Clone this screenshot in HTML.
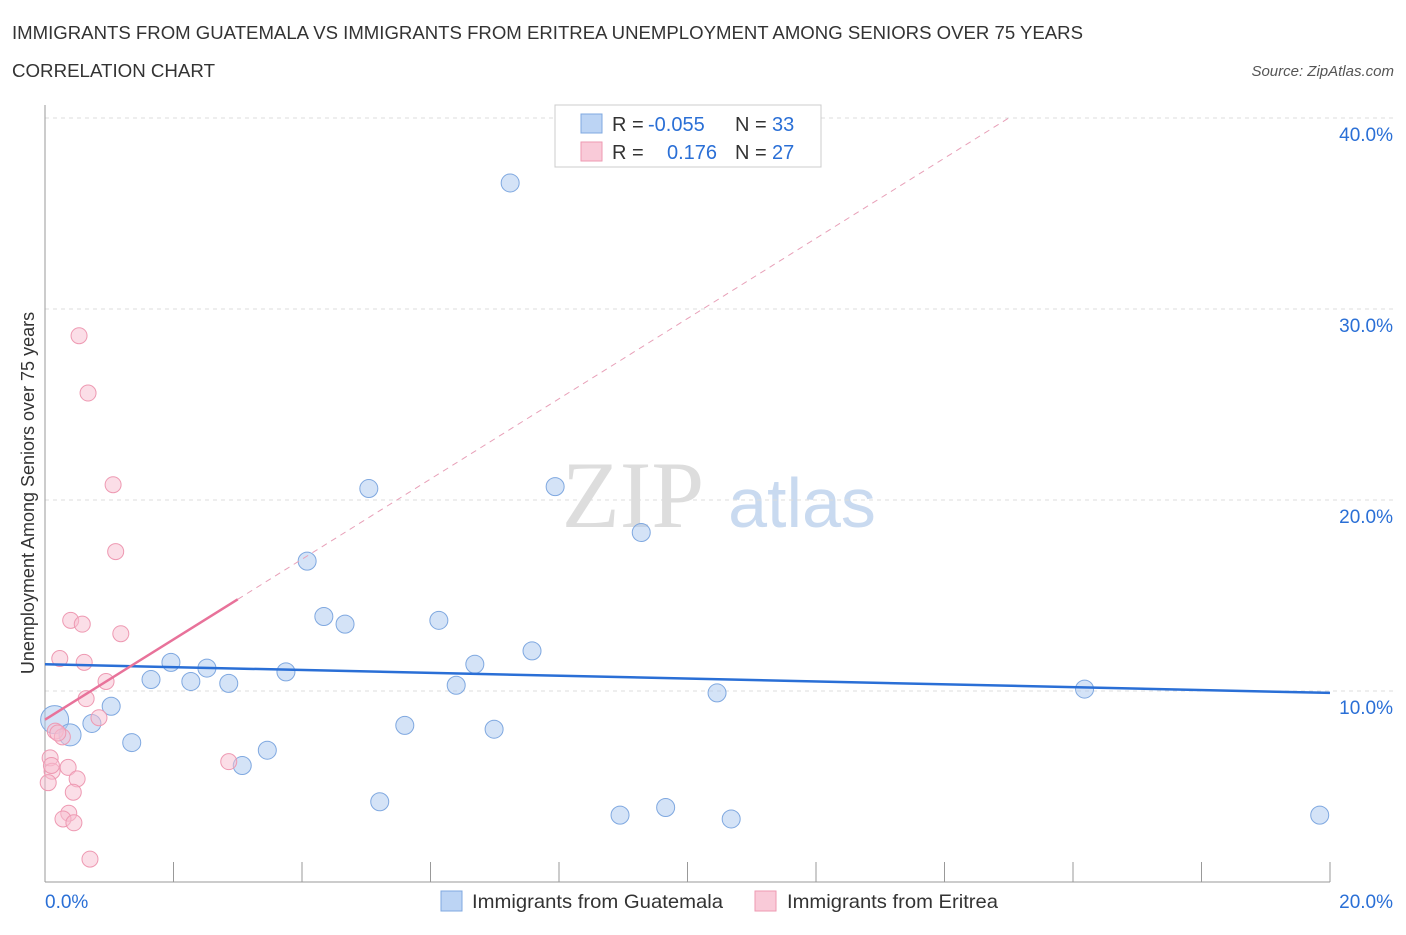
<!DOCTYPE html>
<html><head><meta charset="utf-8"><style>
body{margin:0;background:#fff;font-family:"Liberation Sans",sans-serif;}
svg text{font-family:"Liberation Sans",sans-serif;}
</style></head><body>
<svg id="c" width="1406" height="930" xmlns="http://www.w3.org/2000/svg">
<text x="12" y="39" font-size="18" fill="#333" textLength="1071" lengthAdjust="spacingAndGlyphs">IMMIGRANTS FROM GUATEMALA VS IMMIGRANTS FROM ERITREA UNEMPLOYMENT AMONG SENIORS OVER 75 YEARS</text>
<text x="12" y="77" font-size="18" fill="#333" textLength="203" lengthAdjust="spacingAndGlyphs">CORRELATION CHART</text>
<text x="1394" y="76" font-size="15" fill="#555" font-style="italic" text-anchor="end">Source: ZipAtlas.com</text>
<text x="633" y="527" font-size="95" fill="#ddd" style="font-family:'Liberation Serif',serif" text-anchor="middle">ZIP</text>
<text x="802" y="527" font-size="70" fill="#c9daf0" text-anchor="middle">atlas</text>
<text transform="translate(34,493) rotate(-90)" font-size="18" fill="#333" text-anchor="middle">Unemployment Among Seniors over 75 years</text>
<g id="grid"></g><g id="marks"></g>
<g>
<rect x="555" y="105" width="266" height="62" fill="#fff" stroke="#ccc"/>
<rect x="581" y="114" width="21" height="19" fill="#bcd4f4" stroke="#7fa8e0"/>
<text x="612" y="131" font-size="20" fill="#333">R = </text><text x="648" y="131" font-size="20" fill="#2a6fd6">-0.055</text>
<text x="735" y="131" font-size="20" fill="#333">N = </text><text x="772" y="131" font-size="20" fill="#2a6fd6">33</text>
<rect x="581" y="142" width="21" height="19" fill="#f9cad8" stroke="#ee99b2"/>
<text x="612" y="159" font-size="20" fill="#333">R = </text><text x="667" y="159" font-size="20" fill="#2a6fd6">0.176</text>
<text x="735" y="159" font-size="20" fill="#333">N = </text><text x="772" y="159" font-size="20" fill="#2a6fd6">27</text>
</g>
<g>
<rect x="441" y="891" width="21" height="20" fill="#bcd4f4" stroke="#7fa8e0"/>
<text x="472" y="908" font-size="19.5" fill="#333" textLength="251" lengthAdjust="spacingAndGlyphs">Immigrants from Guatemala</text>
<rect x="755" y="891" width="21" height="20" fill="#f9cad8" stroke="#ee99b2"/>
<text x="787" y="908" font-size="19.5" fill="#333" textLength="211" lengthAdjust="spacingAndGlyphs">Immigrants from Eritrea</text>
</g>
</svg>
<script>
const yTicks=[10,20,30,40];
const yTickLabels=["10.0%","20.0%","30.0%","40.0%"];
const blueX=[0.15,0.39,0.73,1.03,1.35,1.65,1.96,2.27,2.52,2.86,3.07,3.46,3.75,4.08,4.34,4.67,5.04,5.21,5.6,6.13,6.4,6.69,6.99,7.24,7.58,7.94,8.95,9.28,9.66,10.46,10.68,16.18,19.84];
const blueY=[8.5,7.7,8.3,9.2,7.3,10.6,11.5,10.5,11.2,10.4,6.1,6.9,11.0,16.8,13.9,13.5,20.6,4.2,8.2,13.7,10.3,11.4,8.0,36.6,12.1,20.7,3.5,18.3,3.9,9.9,3.3,10.1,3.5];
const blueR=[14,11,9,9,9,9,9,9,9,9,9,9,9,9,9,9,9,9,9,9,9,9,9,9,9,9,9,9,9,9,9,9,9];
const pinkX=[0.53,0.67,1.06,1.1,0.4,0.58,1.18,0.23,0.61,0.95,0.64,0.84,0.16,0.27,2.86,0.36,0.08,0.11,0.5,0.05,0.44,0.37,0.28,0.45,0.7,0.2,0.1];
const pinkY=[28.6,25.6,20.8,17.3,13.7,13.5,13.0,11.7,11.5,10.5,9.6,8.6,7.9,7.6,6.3,6.0,6.5,5.8,5.4,5.2,4.7,3.6,3.3,3.1,1.2,7.8,6.1];
const blueTrend=[11.4,9.9];
const pinkTrend=[8.5,14.8,40];
const X=v=>45+v/20*1285, Y=v=>882-v*19.1;
const ns="http://www.w3.org/2000/svg";
const grid=document.getElementById('grid'), marks=document.getElementById('marks');
function mk(tag,at,par){const e=document.createElementNS(ns,tag);for(const k in at)e.setAttribute(k,at[k]);par.appendChild(e);return e;}
yTicks.forEach((t,i)=>{
 const l=mk('line',{x1:45,x2:1393,y1:Y(t),y2:Y(t),stroke:'#ddd','stroke-dasharray':'4,4'},grid);
 
 
 const tx=mk('text',{x:1393,y:Y(t)+23,'font-size':19,fill:'#2a6fd6','text-anchor':'end'},grid);tx.textContent=yTickLabels[i];
 
 
});
mk('line',{x1:45,x2:45,y1:105,y2:882,stroke:'#999'},grid);
mk('line',{x1:45,x2:1330,y1:882,y2:882,stroke:'#999'},grid);
for(let i=0;i<=10;i++){mk('line',{x1:X(i*2),x2:X(i*2),y1:862,y2:882,stroke:'#999'},grid);}
let t0=mk('text',{x:45,y:908,'font-size':19,fill:'#2a6fd6'},grid);t0.textContent="0.0%";

let t1=mk('text',{x:1393,y:908,'font-size':19,fill:'#2a6fd6','text-anchor':'end'},grid);t1.textContent="20.0%";

blueX.forEach((v,i)=>{const c=mk('circle',{cx:X(v),cy:Y(blueY[i]),r:blueR[i],fill:'rgba(170,200,240,0.5)',stroke:'#7fa8e0','stroke-width':1},marks);
 
 });
pinkX.forEach((v,i)=>{const c=mk('circle',{cx:X(v),cy:Y(pinkY[i]),r:8,fill:'rgba(248,190,208,0.5)',stroke:'#ee99b2','stroke-width':1},marks);
 
 });
const bl=mk('line',{x1:X(0),y1:Y(blueTrend[0]),x2:X(20),y2:Y(blueTrend[1]),stroke:'#2a6fd6','stroke-width':2.5},marks);

const slope=(pinkTrend[1]-pinkTrend[0])/3;
const pe=(pinkTrend[2]-pinkTrend[0])/slope;
const pl=mk('line',{x1:X(0),y1:Y(pinkTrend[0]),x2:X(3),y2:Y(pinkTrend[1]),stroke:'#e8729a','stroke-width':2.5},marks);

const pd=mk('line',{x1:X(3),y1:Y(pinkTrend[1]),x2:X(pe),y2:Y(pinkTrend[2]),stroke:'#e8a0b8','stroke-width':1,'stroke-dasharray':'6,5'},marks);

</script>
</body></html>
